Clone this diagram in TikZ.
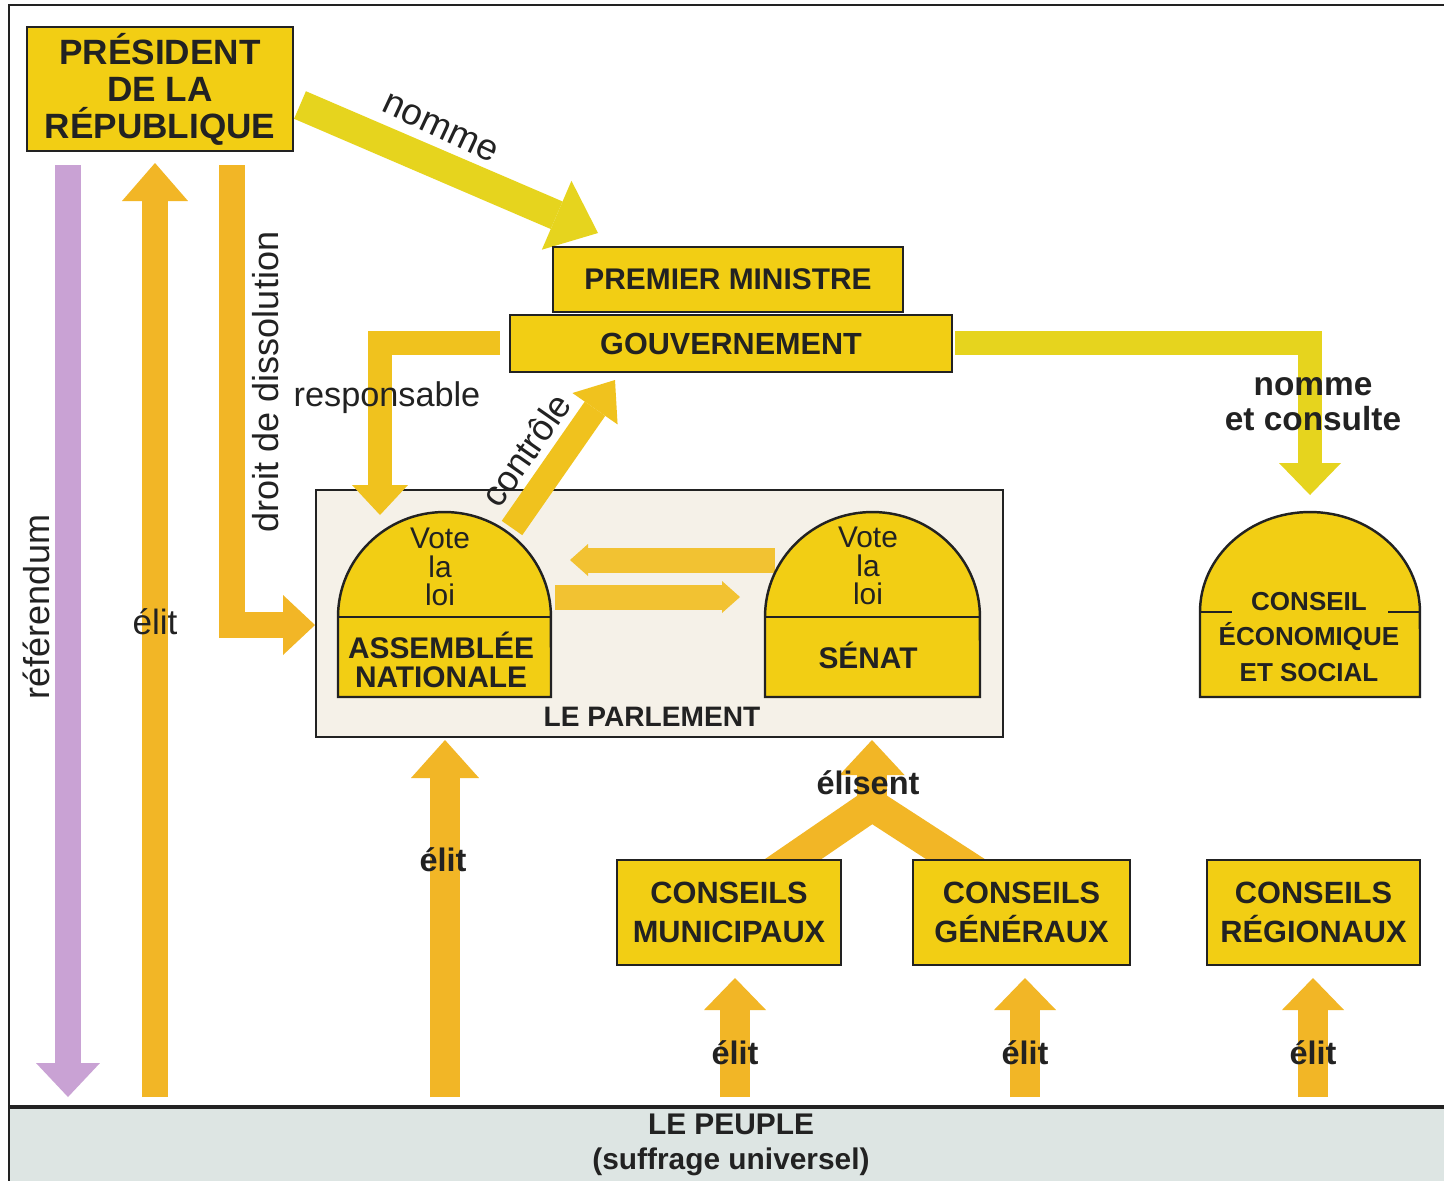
\documentclass[tikz,border=0pt]{standalone}
\usepackage{fontspec}
\setmainfont{Liberation Sans}
\usetikzlibrary{arrows.meta}
\definecolor{ink}{HTML}{222222}
\definecolor{boxy}{HTML}{F2CE14}
\definecolor{arrowo}{HTML}{F2B626}
\definecolor{lemon}{HTML}{E6D41E}
\definecolor{respy}{HTML}{F0C21E}
\definecolor{parly}{HTML}{F2C232}
\definecolor{purp}{HTML}{C9A2D4}
\definecolor{parlfill}{HTML}{F5F1E8}
\definecolor{peuplefill}{HTML}{DDE5E3}
\newcommand\myfs[2]{\fontsize{#1}{#2}\selectfont}
\tikzset{
  box/.style={draw=ink, line width=1.6pt, fill=boxy, inner sep=0pt, align=center, text=ink},
  barrow/.style n args={3}{line width=#1, line join=miter, -{Triangle[width=#2,length=#3,line width=0pt]}},
  lbl/.style={text=ink, inner sep=0pt, align=center, font=\myfs{19.5}{22}},
  blbl/.style={text=ink, inner sep=0pt, align=center, font=\bfseries\myfs{18.5}{21}},
  domeline/.style={draw=ink, line width=1.4pt},
}
\begin{document}
\begin{tikzpicture}[x=0.02cm,y=-0.02cm]
\useasboundingbox (0,0) rectangle (1444,1181);
\fill[white] (0,0) rectangle (1444,1181);
% frame
\fill[peuplefill] (9,1107) rectangle (1444,1181);
\draw[ink, line width=1.8pt] (9,1107) -- (1444,1107);
\draw[ink, line width=1.4pt] (1444,5) -- (9,5) -- (9,1181);
% parliament box
\node[draw=ink, line width=0.9pt, fill=parlfill, minimum width=13.74cm, minimum height=4.94cm, inner sep=0pt] (parl) at (659.5,613.5) {};
% coordinates for connectors
\coordinate (refA) at (68,165);  \coordinate (refB) at (68,1097);
\coordinate (elA) at (155,1097); \coordinate (elB) at (155,163);
\coordinate (disA) at (232,165); \coordinate (disB) at (315,625);
\coordinate (anA) at (445,1097); \coordinate (anB) at (445,740);
\coordinate (nomA) at (300,105); \coordinate (nomB) at (598,233);
\coordinate (resA) at (500,343); \coordinate (resB) at (380,515);
\coordinate (conA) at (512,528); \coordinate (conB) at (615,380);
\coordinate (cesA) at (955,343); \coordinate (cesB) at (1310,495);
\coordinate (plA) at (775,560); \coordinate (plB) at (570,560);
\coordinate (prA) at (555,597); \coordinate (prB) at (740,597);
\coordinate (m1A) at (735,1097); \coordinate (m1B) at (735,978);
\coordinate (m2A) at (1025,1097); \coordinate (m2B) at (1025,978);
\coordinate (m3A) at (1313,1097); \coordinate (m3B) at (1313,978);
\coordinate (vL) at (770,875); \coordinate (vM) at (872,805); \coordinate (vR) at (980,875);
\coordinate (vT) at (872,740);
% arrows
\draw[purp, barrow={0.52cm}{1.28cm}{0.68cm}] (refA) -- (refB);
\draw[arrowo, barrow={0.54cm}{1.32cm}{0.76cm}] (elA) -- (elB);
\draw[arrowo, barrow={0.52cm}{1.2cm}{0.64cm}] (disA) |- (disB);
\draw[arrowo, barrow={0.6cm}{1.36cm}{0.76cm}] (anA) -- (anB);
\draw[arrowo, barrow={0.6cm}{1.24cm}{0.64cm}] (m1A) -- (m1B);
\draw[arrowo, barrow={0.6cm}{1.24cm}{0.64cm}] (m2A) -- (m2B);
\draw[arrowo, barrow={0.6cm}{1.24cm}{0.64cm}] (m3A) -- (m3B);
\draw[lemon, barrow={0.6cm}{1.5cm}{0.9cm}] (nomA) -- (nomB);
\draw[respy, barrow={0.48cm}{1.12cm}{0.6cm}] (resA) -| (resB);
\draw[respy, barrow={0.5cm}{1.1cm}{0.7cm}] (conA) -- (conB);
\draw[lemon, barrow={0.48cm}{1.24cm}{0.64cm}] (cesA) -| (cesB);
\draw[parly, barrow={0.5cm}{0.64cm}{0.36cm}] (plA) -- (plB);
\draw[parly, barrow={0.5cm}{0.64cm}{0.36cm}] (prA) -- (prB);
\begin{scope}
\clip (700,700) rectangle (1100,858);
\draw[arrowo, line width=0.64cm, line join=miter] (vL) -- (vM) -- (vR);
\end{scope}
\draw[arrowo, barrow={0.6cm}{1.3cm}{0.7cm}] (vM) -- (vT);
% boxes
\node[box, minimum width=5.32cm, minimum height=2.48cm, font=\bfseries\myfs{20}{21}] (pres) at (160,89) {PRÉSIDENT\\DE LA\\RÉPUBLIQUE};
\node[box, minimum width=7.0cm, minimum height=1.3cm, font=\bfseries\myfs{17}{19}] (pm) at (728,279.5) {PREMIER MINISTRE};
\node[box, minimum width=8.84cm, minimum height=1.14cm, font=\bfseries\myfs{17.4}{19}] (gouv) at (731,343.5) {GOUVERNEMENT};
\node[box, minimum width=4.48cm, minimum height=2.1cm, font=\bfseries\myfs{17.5}{22}] (cmun) at (729,912.5) {CONSEILS\\MUNICIPAUX};
\node[box, minimum width=4.34cm, minimum height=2.1cm, font=\bfseries\myfs{17.5}{22}] (cgen) at (1021.5,912.5) {CONSEILS\\GÉNÉRAUX};
\node[box, minimum width=4.26cm, minimum height=2.1cm, font=\bfseries\myfs{17.5}{22}] (creg) at (1313.5,912.5) {CONSEILS\\RÉGIONAUX};
% domes
\draw[domeline, fill=boxy] (338,697) -- (338,617) arc[start angle=180, end angle=0, x radius=2.13cm, y radius=2.1cm] -- (551,697) -- cycle;
\draw[domeline] (338,617) -- (551,617);
\draw[domeline, fill=boxy] (765,697) -- (765,617) arc[start angle=180, end angle=0, x radius=2.15cm, y radius=2.1cm] -- (980,697) -- cycle;
\draw[domeline] (765,617) -- (980,617);
\draw[domeline, fill=boxy] (1200,697) -- (1200,612) arc[start angle=180, end angle=0, x radius=2.2cm, y radius=2.0cm] -- (1420,697) -- cycle;
\draw[domeline] (1200,612) -- (1232,612);
\draw[domeline] (1388,612) -- (1420,612);
% dome texts
\node[lbl, font=\myfs{17}{16.4}] (anvote) at (440,567) {Vote\\la\\loi};
\node[text=ink, inner sep=0pt, align=center, font=\bfseries\myfs{17}{16.5}] (antitle) at (441,660) {ASSEMBLÉE\\NATIONALE};
\node[lbl, font=\myfs{17}{16.4}] (snvote) at (868,566) {Vote\\la\\loi};
\node[text=ink, inner sep=0pt, font=\bfseries\myfs{17}{19}] (sntitle) at (868,655) {SÉNAT};
\node[text=ink, inner sep=0pt, align=center, font=\bfseries\myfs{14.8}{20.2}] (ces) at (1309,637) {CONSEIL\\ÉCONOMIQUE\\ET SOCIAL};
\node[text=ink, inner sep=0pt, font=\bfseries\myfs{16}{18}] (parlt) at (652,717) {LE PARLEMENT};
\node[text=ink, inner sep=0pt, align=center, font=\bfseries\myfs{17}{19.5}] (peuple) at (731,1145) {LE PEUPLE\\(suffrage universel)};
% labels
\node[lbl, rotate=-25, font=\myfs{21}{22}] (lnom) at (440,128) {nomme};
\node[lbl, rotate=90, font=\myfs{20.5}{22}] (ldis) at (266,382) {droit de dissolution};
\node[lbl, rotate=90, font=\myfs{20.5}{22}] (lref) at (36,607) {référendum};
\node[lbl, font=\myfs{20}{22}] (lel) at (155,622) {élit};
\node[lbl] (lres) at (387,398) {responsable};
\node[lbl, rotate=55, font=\myfs{20.5}{22}] (lcon) at (526,450) {contrôle};
\node[blbl, font=\bfseries\myfs{19}{20}] (lces) at (1313,404) {nomme\\et consulte};
\node[blbl] (lelis) at (868,783) {élisent};
\node[blbl] (lan) at (443,860) {élit};
\node[blbl] (l1) at (735,1053) {élit};
\node[blbl] (l2) at (1025,1053) {élit};
\node[blbl] (l3) at (1313,1053) {élit};
\end{tikzpicture}
\end{document}
